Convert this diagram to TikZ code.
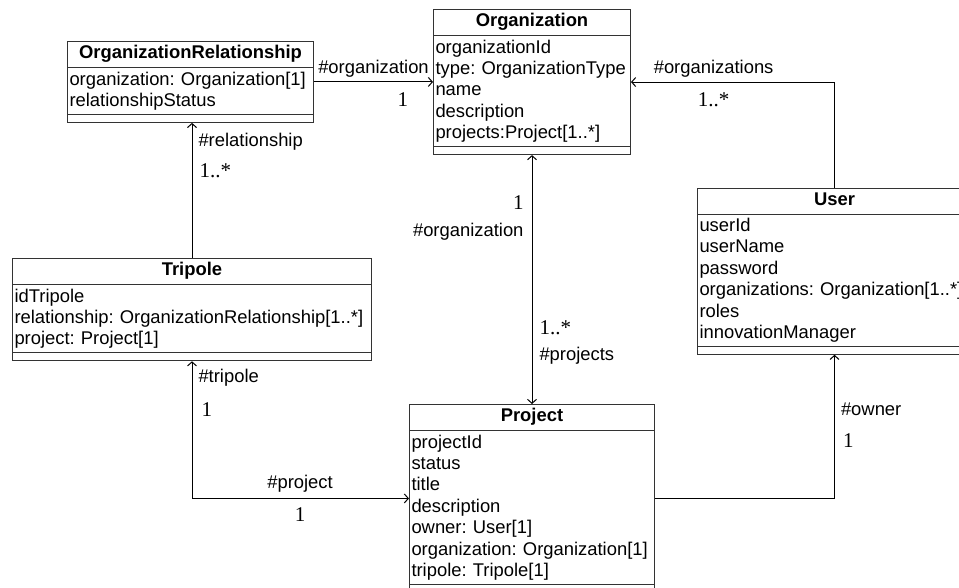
\documentclass[tikz,border=0pt]{standalone}
\usepackage{fontspec}
\setmainfont{Liberation Sans}
\newfontfamily\multfont{Liberation Serif}
\usetikzlibrary{shapes.multipart,arrows.meta}
\tikzstyle{classbox}=[draw=black!80, line width=1pt, rectangle split,
  rectangle split parts=3, anchor=north west, inner xsep=2pt,
  inner ysep=3.5pt, align=left,
  font=\fontsize{18.4}{21.4}\selectfont\frenchspacing]
\tikzstyle{assoc}=[draw, line width=1pt,
  >={Straight Barb[length=4pt,width=9pt]}]
\tikzstyle{role}=[inner sep=2pt, font=\fontsize{18.4}{21.4}\selectfont]
\tikzstyle{mult}=[inner sep=2pt, font=\multfont\fontsize{21}{24}\selectfont]
\newcommand{\umlclass}[4]{node (#1) [classbox, text width=#2]
  {\hbox to \hsize{\hfil\rule[-5pt]{0pt}{15.5pt}\textbf{#3}\hfil}%
   \nodepart{two}#4\nodepart{three}}}

\begin{document}
\begin{tikzpicture}[x=1pt, y=-1pt]
\clip (0,0) rectangle (959,588);
% Draw classes
\path (433,9) \umlclass{org}{193pt}{Organization}
  {organizationId\\type: OrganizationType\\name\\description\\projects:Project[1..*]};
\path (org.north west) +(-366,32) \umlclass{orgrel}{242pt}{OrganizationRelationship}
  {organization: Organization[1]\\relationshipStatus};
\path (org.north west) +(264,179) \umlclass{user}{270pt}{User}
  {userId\\userName\\password\\organizations: Organization[1..*]\\roles\\innovationManager};
\path (orgrel.north west) +(-55,217) \umlclass{tripole}{355pt}{Tripole}
  {idTripole\\relationship: OrganizationRelationship[1..*]\\project: Project[1]};
\path (org.north west) +(-24,395) \umlclass{project}{241pt}{Project}
  {projectId\\status\\title\\description\\owner: User[1]\\organization: Organization[1]\\tripole: Tripole[1]};

% Draw associations
\path [assoc, ->] (orgrel.east) -- (orgrel.east -| org.west)
  node (r1) [role, pos=0.5, above=2pt] {\#organization}
  node (m1) [mult, pos=0.746, below=8pt] {1};
\path [assoc, ->] (user.north) |- (org.east)
  node (r2) [role, pos=0.797, above=2pt] {\#organizations}
  node (m2) [mult, pos=0.797, below=8pt] {1..*};
\path [assoc, ->] (tripole.north) -- (tripole.north |- orgrel.south)
  node (r3) [role, pos=0.859, right=4pt] {\#relationship}
  node (m3) [mult, pos=0.643, right=5pt] {1..*};
\path [assoc, <->] (tripole.south) |- (project.west)
  node (r4) [role, pos=0.061, right=4pt] {\#tripole}
  node (m4) [mult, pos=0.176, right=7pt] {1}
  node (r5) [role, pos=0.749, above=4pt] {\#project}
  node (m5) [mult, pos=0.749, below=7pt] {1};
\path [assoc, <->] (org.south) -- (org.south |- project.north)
  node (m6) [mult, pos=0.192, left=6pt] {1}
  node (r6) [role, pos=0.308, left=6pt] {\#organization}
  node (m7) [mult, pos=0.694, right=5pt] {1..*}
  node (r7) [role, pos=0.806, right=5pt] {\#projects};
\path [assoc, ->] (project.east) -| (user.south)
  node (r8) [role, pos=0.812, right=4pt] {\#owner}
  node (m8) [mult, pos=0.702, right=6pt] {1};
\end{tikzpicture}
\end{document}
